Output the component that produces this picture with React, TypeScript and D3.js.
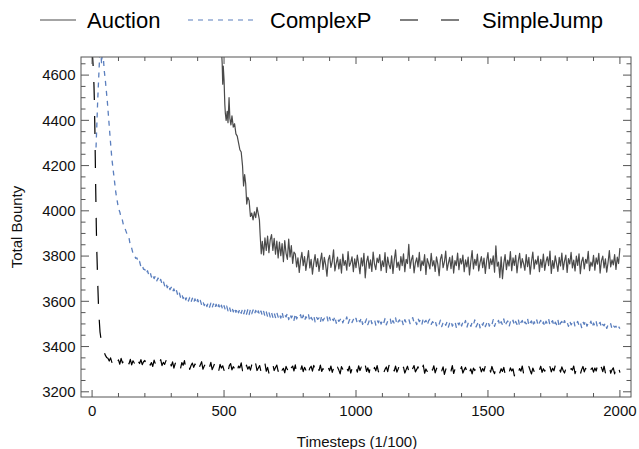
import React from "react";
import * as d3 from "d3";

// ---------- data ----------
const seriesNames = ["Auction", "ComplexP", "SimpleJump"];

// SimpleJump: early descent (irregular steps), then every 5 timesteps from 100 to 2000
const simpleJumpEarlyT = [0, 4, 7, 9, 11, 12, 14, 16, 18, 20, 22, 24, 27, 30, 33, 36, 39, 43, 46, 50, 55, 60, 65, 70, 75, 80, 85, 90, 95];
const simpleJumpEarlyV = [4720, 4640, 4560, 4470, 4330, 4240, 4080, 3930, 3820, 3740, 3660, 3590, 3520, 3465, 3440, 3430, 3400, 3390, 3375, 3362, 3352, 3348, 3336, 3350, 3330, 3347, 3332, 3345, 3329];
const simpleJumpLateV = [
  3341, 3322, 3348, 3328, 3336, 3318, 3345, 3330, 3324, 3343, 3319, 3337, 3327, 3346, 3316, 3334, 3325, 3342, 3320, 3333,
  3339, 3315, 3331, 3344, 3318, 3329, 3312, 3340, 3323, 3335, 3309, 3327, 3342, 3316, 3330, 3321, 3338, 3306, 3326, 3333,
  3314, 3332, 3305, 3325, 3336, 3310, 3322, 3302, 3329, 3317, 3338, 3304, 3320, 3331, 3299, 3316, 3327, 3308, 3323, 3301,
  3326, 3305, 3318, 3333, 3300, 3314, 3324, 3296, 3319, 3309, 3330, 3298, 3312, 3327, 3302, 3317, 3293, 3321, 3305, 3315,
  3295, 3320, 3308, 3288, 3316, 3325, 3297, 3311, 3302, 3323, 3290, 3314, 3306, 3328, 3293, 3309, 3284, 3318, 3300, 3312,
  3296, 3319, 3287, 3310, 3324, 3294, 3305, 3316, 3289, 3312, 3299, 3326, 3291, 3308, 3283, 3315, 3302, 3320, 3294, 3307,
  3318, 3290, 3309, 3330, 3296, 3304, 3284, 3312, 3298, 3321, 3288, 3306, 3314, 3292, 3319, 3282, 3303, 3311, 3295, 3315,
  3289, 3308, 3296, 3322, 3286, 3305, 3313, 3291, 3317, 3299, 3280, 3310, 3294, 3318, 3290, 3303, 3285, 3312, 3297, 3307,
  3293, 3314, 3286, 3304, 3320, 3289, 3309, 3296, 3279, 3311, 3300, 3316, 3287, 3306, 3292, 3313, 3283, 3302, 3318, 3290,
  3305, 3287, 3315, 3294, 3309, 3281, 3301, 3319, 3290, 3306, 3285, 3311, 3297, 3278, 3308, 3293, 3316, 3288, 3303, 3296,
  3312, 3284, 3299, 3310, 3289, 3317, 3295, 3280, 3306, 3292, 3314, 3287, 3302, 3321, 3286, 3300, 3309, 3283, 3298, 3313,
  3291, 3306, 3279, 3303, 3316, 3288, 3299, 3311, 3285, 3307, 3294, 3318, 3282, 3301, 3290, 3312, 3287, 3304, 3296, 3315,
  3284, 3302, 3318, 3289, 3305, 3293, 3310, 3277, 3298, 3314, 3286, 3303, 3292, 3316, 3281, 3300, 3309, 3288, 3306, 3295,
  3311, 3283, 3297, 3308, 3290, 3317, 3286, 3301, 3279, 3305, 3294, 3313, 3282, 3299, 3310, 3288, 3303, 3291, 3314, 3285,
  3300, 3309, 3287, 3312, 3293, 3280, 3304, 3297, 3315, 3284, 3302, 3290, 3308, 3278, 3299, 3311, 3286, 3306, 3292, 3301,
  3270, 3295, 3310, 3285, 3303, 3291, 3314, 3281, 3298, 3307, 3289, 3312, 3294, 3279, 3305, 3290, 3309, 3284, 3300, 3296,
  3313, 3286, 3302, 3291, 3308, 3280, 3299, 3311, 3288, 3304, 3293, 3316, 3282, 3297, 3306, 3287, 3310, 3294, 3283, 3301,
  3292, 3309, 3285, 3303, 3296, 3314, 3280, 3300, 3290, 3307, 3278, 3298, 3312, 3288, 3304, 3293, 3311, 3283, 3299, 3306,
  3287, 3305, 3292, 3316, 3281, 3299, 3308, 3289, 3313, 3284, 3302, 3295, 3318, 3282, 3297, 3306, 3279, 3310, 3291, 3308,
  3285,
];

// ComplexP: early rise/fall, then every 5 timesteps from 200 to 2000
const complexEarlyT = [15, 18, 21, 24, 27, 30, 33, 36, 39, 42, 46, 50, 54, 58, 62, 66, 70, 75, 80, 85, 90, 95, 100, 105, 110, 115, 120, 126, 133, 140, 145, 150, 155, 160, 165, 170, 175, 180, 185, 190, 195];
const complexEarlyV = [4280, 4380, 4480, 4560, 4640, 4720, 4700, 4650, 4710, 4690, 4620, 4580, 4530, 4480, 4420, 4360, 4300, 4230, 4180, 4130, 4080, 4045, 4010, 3995, 3970, 3958, 3930, 3918, 3895, 3880, 3846, 3835, 3812, 3808, 3790, 3792, 3770, 3776, 3752, 3760, 3741];
const complexLateV = [
  3741, 3722, 3735, 3716, 3728, 3707, 3721, 3700, 3712, 3690, 3703, 3684, 3697, 3676, 3689, 3668, 3682, 3660, 3674, 3652,
  3662, 3641, 3655, 3634, 3647, 3625, 3640, 3618, 3633, 3612, 3628, 3606, 3622, 3601, 3617, 3597, 3614, 3593, 3611, 3590,
  3608, 3589, 3604, 3584, 3600, 3581, 3597, 3577, 3594, 3574, 3592, 3572, 3589, 3569, 3587, 3566, 3585, 3564, 3583, 3562,
  3581, 3561, 3579, 3558, 3576, 3556, 3574, 3553, 3572, 3551, 3570, 3549, 3568, 3547, 3566, 3545, 3564, 3543, 3563, 3541,
  3564, 3545, 3562, 3542, 3560, 3540, 3558, 3538, 3557, 3536, 3555, 3534, 3553, 3532, 3552, 3530, 3550, 3529, 3549, 3528,
  3551, 3530, 3545, 3526, 3553, 3524, 3540, 3531, 3548, 3519, 3544, 3527, 3538, 3516, 3546, 3522, 3535, 3528, 3541, 3515,
  3539, 3514, 3532, 3522, 3541, 3511, 3529, 3518, 3536, 3509, 3531, 3520, 3527, 3507, 3537, 3514, 3525, 3519, 3533, 3506,
  3529, 3508, 3522, 3515, 3534, 3503, 3524, 3511, 3519, 3528, 3505, 3521, 3512, 3531, 3500, 3517, 3526, 3506, 3520, 3509,
  3525, 3502, 3516, 3509, 3528, 3498, 3518, 3506, 3522, 3497, 3514, 3526, 3501, 3511, 3520, 3495, 3517, 3505, 3523, 3499,
  3516, 3503, 3524, 3496, 3512, 3507, 3521, 3493, 3515, 3502, 3527, 3497, 3510, 3518, 3500, 3513, 3492, 3519, 3506, 3514,
  3522, 3501, 3517, 3528, 3505, 3514, 3497, 3525, 3510, 3519, 3499, 3526, 3508, 3516, 3494, 3513, 3521, 3498, 3510, 3503,
  3515, 3492, 3508, 3499, 3517, 3488, 3506, 3512, 3494, 3509, 3486, 3504, 3514, 3490, 3501, 3511, 3485, 3507, 3496, 3513,
  3491, 3508, 3497, 3515, 3484, 3503, 3510, 3489, 3506, 3495, 3518, 3487, 3500, 3512, 3483, 3505, 3494, 3511, 3488, 3502,
  3514, 3490, 3506, 3497, 3519, 3489, 3508, 3501, 3516, 3492, 3510, 3496, 3522, 3491, 3505, 3513, 3488, 3509, 3499, 3517,
  3493, 3511, 3498, 3520, 3490, 3507, 3515, 3494, 3509, 3500, 3524, 3492, 3506, 3513, 3489, 3510, 3497, 3518, 3491, 3505,
  3516, 3495, 3509, 3488, 3512, 3501, 3521, 3493, 3507, 3514, 3490, 3508, 3497, 3519, 3486, 3504, 3511, 3494, 3515, 3499,
  3508, 3489, 3513, 3496, 3505, 3517, 3487, 3502, 3511, 3493, 3506, 3484, 3509, 3498, 3515, 3490, 3503, 3495, 3512, 3486,
  3504, 3491, 3510, 3485, 3500, 3507, 3483, 3498, 3492, 3505, 3480, 3496, 3489, 3501, 3478, 3493, 3486, 3490, 3476, 3488,
  3479,
];

// Auction: starts at 490, sharp drop, then every 5 timesteps from 770 to 2000
const auctionEarlyT = [490, 493, 495, 497, 500, 503, 505, 508, 512, 515, 519, 522, 526, 530, 535, 540, 545, 550, 555, 560, 565, 570, 574, 578, 582, 586, 590, 595, 600, 605, 610, 615, 620, 625, 630, 634, 637, 641, 645, 650, 655, 660, 665, 670, 675, 680, 685, 690, 695, 700, 705, 710, 715, 720, 725, 730, 735, 740, 745, 750, 755, 760, 765];
const auctionEarlyV = [4720, 4650, 4560, 4640, 4580, 4470, 4430, 4400, 4440, 4390, 4500, 4410, 4380, 4420, 4370, 4385, 4340, 4330, 4300, 4270, 4260, 4200, 4110, 4160, 4120, 4030, 4060, 4045, 3975, 3990, 3960, 3995, 3970, 4015, 3985, 3960, 3890, 3810, 3865, 3805, 3880, 3825, 3888, 3815, 3872, 3895, 3825, 3878, 3808, 3866, 3792, 3862, 3802, 3855, 3775, 3868, 3812, 3785, 3875, 3796, 3846, 3768, 3818];
const auctionLateV = [
  3809, 3752, 3792, 3728, 3782, 3816,
  3758, 3798, 3737, 3780, 3824, 3748, 3786, 3720, 3770, 3806, 3753, 3789, 3732, 3778, 3813, 3741, 3794, 3761, 3711, 3783,
  3803, 3750, 3776, 3828, 3734, 3767, 3795, 3743, 3785, 3725, 3809, 3759, 3780, 3738, 3820, 3755, 3771, 3797, 3731, 3788,
  3749, 3804, 3765, 3722, 3792, 3756, 3812, 3704, 3774, 3800, 3746, 3783, 3732, 3818, 3764, 3740, 3791, 3771, 3807, 3735,
  3779, 3753, 3815, 3728, 3795, 3762, 3744, 3801, 3723, 3782, 3827, 3750, 3773, 3738, 3798, 3758, 3810, 3731, 3786, 3767,
  3852, 3746, 3783, 3803, 3726, 3770, 3792, 3752, 3816, 3735, 3779, 3759, 3806, 3719, 3789, 3768, 3743, 3812, 3756, 3780,
  3732, 3797, 3764, 3713, 3786, 3807, 3749, 3774, 3822, 3737, 3768, 3794, 3744, 3801, 3725, 3780, 3758, 3813, 3740, 3789,
  3765, 3804, 3731, 3783, 3752, 3795, 3717, 3776, 3824, 3743, 3786, 3759, 3809, 3734, 3771, 3798, 3749, 3791, 3723, 3779,
  3815, 3744, 3788, 3762, 3801, 3729, 3845, 3755, 3773, 3705, 3797, 3700, 3768, 3806, 3740, 3782, 3756, 3820, 3735, 3792,
  3759, 3803, 3726, 3779, 3812, 3748, 3789, 3767, 3737, 3807, 3753, 3794, 3720, 3776, 3818, 3743, 3783, 3764, 3800, 3731,
  3786, 3750, 3809, 3737, 3774, 3797, 3758, 3822, 3723, 3780, 3746, 3801, 3768, 3732, 3794, 3756, 3813, 3740, 3778, 3804,
  3728, 3789, 3765, 3816, 3748, 3782, 3734, 3800, 3759, 3810, 3722, 3776, 3795, 3743, 3786, 3768, 3821, 3735, 3773, 3755,
  3803, 3738, 3792, 3764, 3812, 3725, 3779, 3800, 3748, 3788, 3729, 3771, 3824, 3752, 3783, 3761, 3807, 3741, 3795, 3767,
  3835,
];

const xMajorTicks = [0, 500, 1000, 1500, 2000];
const yMajorTicks = [3200, 3400, 3600, 3800, 4000, 4200, 4400, 4600];

// ---------- layout ----------
const W = 639, H = 449;
const L = 81, R = 631, T = 57, B = 397;

type Pt = [number, number];
function pair(ts: number[], vs: number[]): Pt[] {
  return ts.map((t, i) => [t, vs[i]] as Pt);
}

export default function App() {
  const x = d3.scaleLinear().domain([-42, 2042]).range([L, R]);
  const y = d3.scaleLinear().domain([3177, 4680]).range([B, T]);

  const simpleJump = pair(simpleJumpEarlyT.concat(d3.range(100, 2001, 5)), simpleJumpEarlyV.concat(simpleJumpLateV));
  const complexP = pair(complexEarlyT.concat(d3.range(200, 2001, 5)), complexEarlyV.concat(complexLateV));
  const auction = pair(auctionEarlyT.concat(d3.range(770, 2001, 5)), auctionEarlyV.concat(auctionLateV));

  const line = d3.line<Pt>().x((d) => x(d[0])).y((d) => y(d[1]));

  const xMinor = d3.range(0, 2001, 100).filter((v) => !xMajorTicks.includes(v));
  const yMinor = d3.range(3200, 4651, 50).filter((v) => !yMajorTicks.includes(v));

  const frameColor = "#555";
  const font = "'Liberation Sans', Arial, sans-serif";

  const styles = [
    { name: seriesNames[0], color: "#4a4a4a", dash: "none", width: 1.2 },
    { name: seriesNames[1], color: "#5b7fbe", dash: "5,5", width: 1.3 },
    { name: seriesNames[2], color: "#000000", dash: "18,16", width: 1.2 },
  ];
  const data = [auction, complexP, simpleJump];

  const legend = [
    { x1: 40, x2: 76, tx: 87, dash: "none" },
    { x1: 188, x2: 254, tx: 270, dash: "5,5" },
    { x1: 400, x2: 460, tx: 482, dash: "18,23" },
  ];

  return (
    <svg width={W} height={H} style={{ position: "absolute", left: 0, top: 0, background: "#fff" }} fontFamily={font}>
      <defs>
        <clipPath id="plotClip">
          <rect x={L} y={T} width={R - L} height={B - T} />
        </clipPath>
      </defs>

      {/* legend */}
      {legend.map((lg, i) => (
        <g key={i}>
          <line x1={lg.x1} x2={lg.x2} y1={20} y2={20} stroke={styles[i].color} strokeWidth={1.1} strokeDasharray={lg.dash} />
          <text x={lg.tx} y={28} fontSize={22} fill="#000">{styles[i].name}</text>
        </g>
      ))}

      {/* series */}
      <g clipPath="url(#plotClip)">
        {data.map((d, i) => (
          <path key={i} d={line(d) || ""} fill="none" stroke={styles[i].color} strokeWidth={styles[i].width} strokeDasharray={styles[i].dash} strokeLinejoin="round" />
        ))}
      </g>

      {/* frame */}
      <rect x={L} y={T} width={R - L} height={B - T} fill="none" stroke={frameColor} strokeWidth={1} />

      {/* x ticks (bottom and top, inward) */}
      {xMajorTicks.map((v) => (
        <g key={"xM" + v}>
          <line x1={x(v)} x2={x(v)} y1={B} y2={B - 7} stroke={frameColor} />
          <line x1={x(v)} x2={x(v)} y1={T} y2={T + 7} stroke={frameColor} />
          <text x={x(v)} y={416} fontSize={15} textAnchor="middle" fill="#111">{v}</text>
        </g>
      ))}
      {xMinor.map((v) => (
        <g key={"xm" + v}>
          <line x1={x(v)} x2={x(v)} y1={B} y2={B - 4} stroke={frameColor} />
          <line x1={x(v)} x2={x(v)} y1={T} y2={T + 4} stroke={frameColor} />
        </g>
      ))}

      {/* y ticks (left and right, inward) */}
      {yMajorTicks.map((v) => (
        <g key={"yM" + v}>
          <line x1={L} x2={L + 8} y1={y(v)} y2={y(v)} stroke={frameColor} />
          <line x1={R} x2={R - 8} y1={y(v)} y2={y(v)} stroke={frameColor} />
          <text x={75.5} y={y(v) + 5.3} fontSize={15} textAnchor="end" fill="#111">{v}</text>
        </g>
      ))}
      {yMinor.map((v) => (
        <g key={"ym" + v}>
          <line x1={L} x2={L + 4.5} y1={y(v)} y2={y(v)} stroke={frameColor} />
          <line x1={R} x2={R - 4.5} y1={y(v)} y2={y(v)} stroke={frameColor} />
        </g>
      ))}

      {/* axis titles */}
      <text x={357} y={447} fontSize={15} textAnchor="middle" fill="#111">Timesteps (1/100)</text>
      <text transform="translate(22,227) rotate(-90)" fontSize={15} textAnchor="middle" fill="#111">Total Bounty</text>
    </svg>
  );
}
